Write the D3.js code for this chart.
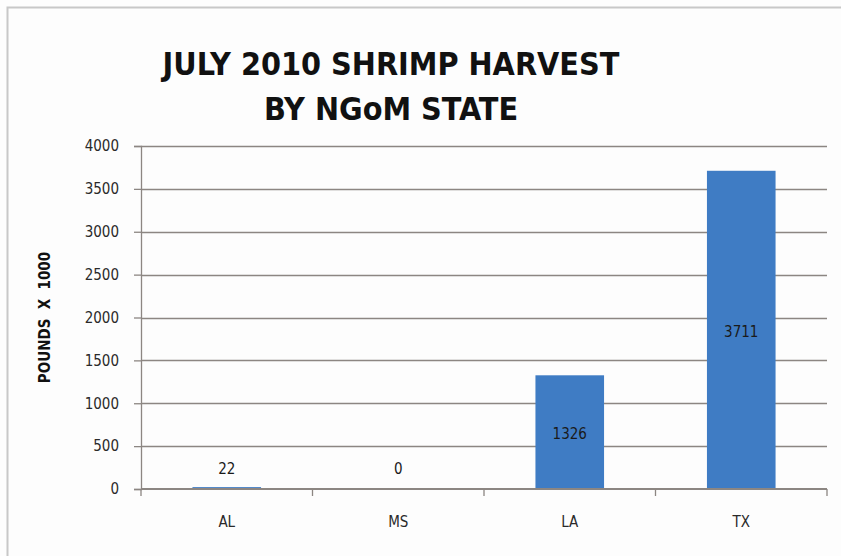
<!DOCTYPE html>
<html>
<head>
<meta charset="utf-8">
<script src="https://cdn.jsdelivr.net/npm/d3@7"></script>
<style>
  body { margin: 0; background: #fdfdfd; }
  svg { display: block; }
  .tick text { font-family: "Liberation Sans Narrow", "Arial Narrow", "DejaVu Sans Condensed", sans-serif; }
</style>
</head>
<body>
<div id="viz"></div>
<script>
// ====================
// DATA
// ====================
const states = ['AL', 'MS', 'LA', 'TX'];
const harvest = [22, 0, 1326, 3711];
const yTicks = [0, 500, 1000, 1500, 2000, 2500, 3000, 3500, 4000];
const titleLines = ['JULY 2010 SHRIMP HARVEST', 'BY NGoM STATE'];
const yTitle = 'POUNDS  X  1000';

// ====================
// SETUP
// ====================
const width = 841;
const height = 556;
const margin = { top: 146, right: 14, bottom: 67, left: 141 };
const font = '"Liberation Sans Narrow", "Arial Narrow", "DejaVu Sans Condensed", sans-serif';
const axisColor = '#8c8682';

const data = states.map((s, i) => ({ state: s, value: harvest[i] }));

const svg = d3.select('#viz')
  .append('svg')
  .attr('width', width)
  .attr('height', height);

// chart frame (only top + left edges show in the picture)
svg.append('path')
  .attr('d', `M7.5,${height} V7.5 H${width}`)
  .attr('fill', 'none')
  .attr('stroke', '#c8c8c8')
  .attr('stroke-width', 2);

// Scales
const x = d3.scaleBand()
  .domain(states)
  .range([margin.left, width - margin.right])
  .paddingInner(0.6)
  .paddingOuter(0.3);

// band used only for tick positions (category boundaries)
const xEdge = d3.scaleBand()
  .domain(states)
  .range([margin.left, width - margin.right]);

const y = d3.scaleLinear()
  .domain([0, 4000])
  .range([height - margin.bottom, margin.top]);

// ====================
// GRID + Y AXIS
// ====================
svg.append('g')
  .selectAll('line')
  .data(yTicks.filter(d => d > 0))
  .join('line')
  .attr('x1', margin.left)
  .attr('x2', width - margin.right)
  .attr('y1', d => Math.round(y(d)) + 0.5)
  .attr('y2', d => Math.round(y(d)) + 0.5)
  .attr('stroke', axisColor)
  .attr('stroke-width', 1.3);

const yAxis = svg.append('g')
  .attr('transform', `translate(${margin.left},0)`)
  .call(d3.axisLeft(y).tickValues(yTicks).tickSize(7).tickPadding(15).tickFormat(d3.format('d')));
yAxis.select('.domain').attr('stroke', axisColor).attr('stroke-width', 1.3);
yAxis.selectAll('.tick line').attr('stroke', axisColor).attr('stroke-width', 1.3);
yAxis.selectAll('.tick text').attr('font-size', 15).attr('fill', '#2a2a2a');

// ====================
// BARS + LABELS
// ====================
svg.append('g')
  .selectAll('rect')
  .data(data)
  .join('rect')
  .attr('x', d => x(d.state))
  .attr('width', x.bandwidth())
  .attr('y', d => y(d.value))
  .attr('height', d => y(0) - y(d.value))
  .attr('fill', '#3f7cc4');

svg.append('g')
  .selectAll('text')
  .data(data)
  .join('text')
  .attr('x', d => x(d.state) + x.bandwidth() / 2)
  .attr('y', d => Math.min((y(d.value) + y(0)) / 2, y(0) - 22) + 7)
  .attr('text-anchor', 'middle')
  .attr('font-family', font)
  .attr('font-size', 15)
  .attr('fill', '#1a1a1a')
  .text(d => d.value);

// ====================
// X AXIS (drawn over the bars)
// ====================
const edges = states.map(s => xEdge(s)).concat([width - margin.right]);
const xAxis = svg.append('g')
  .attr('transform', `translate(0,${y(0)})`);
xAxis.append('line')
  .attr('x1', margin.left)
  .attr('x2', width - margin.right)
  .attr('stroke', axisColor)
  .attr('stroke-width', 2);
xAxis.selectAll('line.tk')
  .data(edges)
  .join('line')
  .attr('class', 'tk')
  .attr('x1', d => d)
  .attr('x2', d => d)
  .attr('y1', 0)
  .attr('y2', 7)
  .attr('stroke', axisColor)
  .attr('stroke-width', 1.3);
xAxis.selectAll('text')
  .data(states)
  .join('text')
  .attr('x', d => x(d) + x.bandwidth() / 2)
  .attr('y', 38)
  .attr('text-anchor', 'middle')
  .attr('font-family', font)
  .attr('font-size', 15)
  .attr('fill', '#2a2a2a')
  .text(d => d);

// ====================
// TITLES
// ====================
svg.append('g')
  .selectAll('text')
  .data(titleLines)
  .join('text')
  .attr('x', 391)
  .attr('y', (d, i) => 75 + i * 45)
  .attr('text-anchor', 'middle')
  .attr('font-family', font)
  .attr('font-weight', 'bold')
  .attr('font-size', 32)
  .attr('fill', '#111')
  .text(d => d);

svg.append('text')
  .attr('transform', `translate(50,${(y(0) + y(4000)) / 2}) rotate(-90)`)
  .attr('text-anchor', 'middle')
  .attr('font-family', font)
  .attr('font-weight', 'bold')
  .attr('font-size', 15)
  .attr('fill', '#111')
  .attr('xml:space', 'preserve')
  .style('white-space', 'pre')
  .text(yTitle);
</script>
</body>
</html>
